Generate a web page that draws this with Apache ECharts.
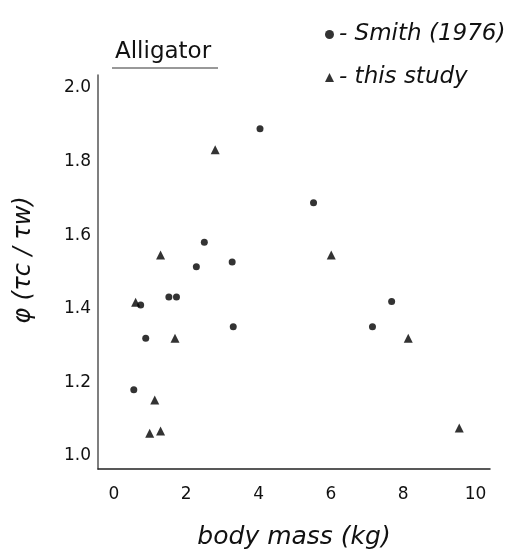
<!DOCTYPE html>
<html>
<head>
<meta charset="utf-8">
<script src="https://cdn.jsdelivr.net/npm/echarts@6/dist/echarts.min.js"></script>
<style>html,body{margin:0;padding:0;background:#fff}#c{width:516px;height:555px}</style>
</head>
<body>
<div id="c"></div>
<script>
// Smith (1976) – circles
var smithMass = [4.04, 5.52, 2.50, 2.28, 3.27, 0.74, 1.52, 1.73, 7.68, 3.30, 7.15, 0.88, 0.55];
var smithPhi  = [1.889, 1.688, 1.581, 1.514, 1.527, 1.41, 1.432, 1.432, 1.42, 1.351, 1.351, 1.32, 1.18];
// this study – triangles
var studyMass = [2.80, 1.29, 6.01, 0.60, 1.69, 8.14, 1.13, 0.99, 1.29, 9.55];
var studyPhi  = [1.832, 1.546, 1.546, 1.418, 1.32, 1.32, 1.152, 1.062, 1.068, 1.076];
var xTicks = [0, 2, 4, 6, 8, 10];
var yTicks = [1.0, 1.2, 1.4, 1.6, 1.8, 2.0];

function pairs(a, b) { return a.map(function (v, i) { return [v, b[i]]; }); }

var font = 'DejaVu Sans';
var chart = echarts.init(document.getElementById('c'), null, {renderer: 'canvas'});
chart.setOption({
  backgroundColor: '#ffffff',
  animation: false,
  title: {
    text: 'Alligator', left: 110, top: 36,
    textStyle: {fontFamily: font, fontSize: 23, fontWeight: 'normal', color: '#111'}
  },
  legend: {
    orient: 'vertical', left: 320, top: 18, itemGap: 20,
    itemWidth: 9, itemHeight: 9,
    textStyle: {fontFamily: font, fontStyle: 'italic', fontSize: 23, color: '#111'},
    formatter: function (n) { return '- ' + n; },
    data: [{name: 'Smith (1976)', icon: 'circle'}, {name: 'this study', icon: 'triangle'}]
  },
  graphic: [{
    type: 'line', shape: {x1: 112, y1: 68, x2: 218, y2: 68},
    style: {stroke: '#333', lineWidth: 1}
  }],
  grid: {left: 98, right: 26, top: 75, bottom: 86, containLabel: false},
  xAxis: {
    type: 'value', min: -0.44, max: 10.4,
    name: 'body mass (kg)', nameLocation: 'middle', nameGap: 56,
    nameTextStyle: {fontFamily: font, fontStyle: 'italic', fontSize: 25, color: '#111'},
    axisLine: {show: true, onZero: false, lineStyle: {color: '#222', width: 1.5}},
    axisTick: {show: false},
    splitLine: {show: false},
    axisLabel: {customValues: xTicks, margin: 17, fontFamily: font, fontSize: 17, color: '#111',
      formatter: function (v) { return String(v); }}
  },
  yAxis: {
    type: 'value', min: 0.9647, max: 2.035,
    name: 'φ (τc / τw)', nameLocation: 'middle', nameGap: 62, nameRotate: 90,
    nameTextStyle: {fontFamily: font, fontStyle: 'italic', fontSize: 24, color: '#111', padding: [0, 0, 0, 24]},
    axisLine: {show: true, onZero: false, lineStyle: {color: '#555', width: 1.5}},
    axisTick: {show: false},
    splitLine: {show: false},
    axisLabel: {customValues: yTicks, margin: 7, fontFamily: font, fontSize: 17, color: '#111',
      formatter: function (v) { return v.toFixed(1); }}
  },
  series: [
    {name: 'Smith (1976)', type: 'scatter', symbol: 'circle', symbolSize: 7,
     itemStyle: {color: '#000'}, data: pairs(smithMass, smithPhi)},
    {name: 'this study', type: 'scatter', symbol: 'triangle', symbolSize: 9,
     itemStyle: {color: '#000'}, data: pairs(studyMass, studyPhi)}
  ]
});
</script>
</body>
</html>
